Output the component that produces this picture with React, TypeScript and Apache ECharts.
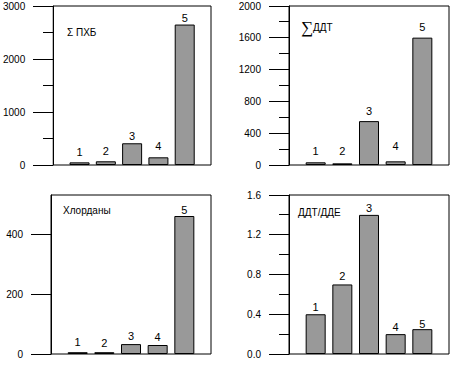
import React, { useEffect, useRef } from "react";
import * as echarts from "echarts";

// ---- data ----
const stations = [1, 2, 3, 4, 5];
const pcbValues = [50, 70, 410, 145, 2650];
const ddtValues = [34, 21, 552, 46, 1602];
const chlordaneValues = [6, 6, 33, 30, 460];
const ratioValues = [0.4, 0.7, 1.4, 0.2, 0.25];

const pcbTicks = [0, 1000, 2000, 3000];
const ddtTicks = [0, 400, 800, 1200, 1600, 2000];
const chlordaneTicks = [0, 200, 400];
const ratioTicks = [0, 0.4, 0.8, 1.2, 1.6];

const titles = ["Σ ПХБ", "ДДТ", "Хлорданы", "ДДТ/ДДЕ"];

// ---- layout (not data) ----
const GRID_W = 160;
const GRID_H = 159;
const grids = [
  { left: 51, top: 6 },
  { left: 289, top: 6 },
  { left: 51, top: 195 },
  { left: 289, top: 195 },
];
const labelGaps = [
  [5, 5, 2, 6, 1],
  [6, 7, 5, 10, 5],
  [5, 4, 3, 3, 1],
  [2, 3, 1, 2, 0],
];
const MAJOR_LEN = 20;
const MINOR_LEN = 10;

export default function App() {
  const ref = useRef<HTMLDivElement>(null);
  useEffect(() => {
    document.body.style.margin = "0";
    if (!ref.current) return;
    const chart = echarts.init(ref.current, null, { renderer: "svg" });
    const font = "Arial, 'Liberation Sans', sans-serif";
    const valueSets = [pcbValues, ddtValues, chlordaneValues, ratioValues];
    const tickSets = [pcbTicks, ddtTicks, chlordaneTicks, ratioTicks];
    const minorFlags = [true, true, false, true];
    const axisMax = [3000, 2000, 530, 1.6];

    const yAxes: any[] = tickSets.map((ticks, i) => ({
      type: "value",
      gridIndex: i,
      min: 0,
      max: axisMax[i],
      interval: ticks[1] - ticks[0],
      axisLine: { show: true, lineStyle: { color: "#000", width: 1 } },
      axisTick: { show: false },
      minorTick: { show: false },
      splitLine: { show: false },
      axisLabel: {
        margin: 28,
        color: "#000",
        fontSize: 10,
        fontFamily: font,
        customValues: ticks,
        formatter: (v: number) => (i === 3 ? v.toFixed(1) : String(v)),
      },
    }));

    const xAxes = grids.map((_, i) => ({
      type: "value",
      gridIndex: i,
      min: 0,
      max: stations.length + 1,
      show: false,
    }));

    const barSeries = valueSets.map((vals, i) => ({
      type: "bar",
      xAxisIndex: i,
      yAxisIndex: i,
      barWidth: 20,
      itemStyle: { color: "#999999", borderColor: "#000", borderWidth: 1 },
      label: {
        show: true,
        position: "top",
        color: "#000",
        fontSize: 11,
        fontFamily: font,
        formatter: (p: any) => String(p.data.value[0]),
      },
      data: vals.map((v, j) => ({
        value: [stations[j], v],
        label: { distance: labelGaps[i][j] },
      })),
    }));

    // tick marks drawn through the axes' own scales (custom series, not clipped)
    const tickSeries = tickSets.map((ticks, i) => {
      const items: number[][] = ticks.map((v) => [0, v, 0]);
      if (minorFlags[i]) {
        for (let k = 0; k < ticks.length - 1; k++) {
          items.push([0, (ticks[k] + ticks[k + 1]) / 2, 1]);
        }
      }
      return {
        type: "custom",
        xAxisIndex: i,
        yAxisIndex: i,
        clip: false,
        silent: true,
        z: 20,
        data: items,
        renderItem: (params: any, api: any) => {
          const p = api.coord([api.value(0), api.value(1)]);
          const len = api.value(2) ? MINOR_LEN : MAJOR_LEN;
          const x = Math.round(p[0]);
          const y = Math.round(p[1] - 0.5) + 0.5;
          return {
            type: "line",
            shape: { x1: x - len, y1: y, x2: x, y2: y },
            style: { stroke: "#000", lineWidth: 1 },
          };
        },
      };
    });

    chart.setOption({
      animation: false,
      grid: grids.map((g) => ({
        left: g.left,
        top: g.top,
        width: GRID_W,
        height: GRID_H,
        show: true,
        borderColor: "#000",
        borderWidth: 1,
      })),
      xAxis: xAxes,
      yAxis: yAxes,
      series: [...barSeries, ...tickSeries],
      graphic: [
        {
          type: "text",
          x: 67,
          y: 32,
          style: { text: titles[0], fontSize: 10, fontFamily: font, fill: "#000", verticalAlign: "middle" },
        },
        {
          type: "text",
          x: 301,
          y: 27,
          style: { text: "∑", fontSize: 17, fontFamily: "'Times New Roman', 'Liberation Serif', serif", fill: "#000", verticalAlign: "middle" },
        },
        {
          type: "text",
          x: 313,
          y: 27,
          style: { text: titles[1], fontSize: 10, fontFamily: font, fill: "#000", verticalAlign: "middle" },
        },
        {
          type: "text",
          x: 63,
          y: 210,
          style: { text: titles[2], fontSize: 10, fontFamily: font, fill: "#000", verticalAlign: "middle" },
        },
        {
          type: "text",
          x: 298,
          y: 212,
          style: { text: titles[3], fontSize: 10, fontFamily: font, fill: "#000", verticalAlign: "middle" },
        },
      ],
    });
    return () => chart.dispose();
  }, []);
  return <div ref={ref} style={{ width: 464, height: 365 }} />;
}
